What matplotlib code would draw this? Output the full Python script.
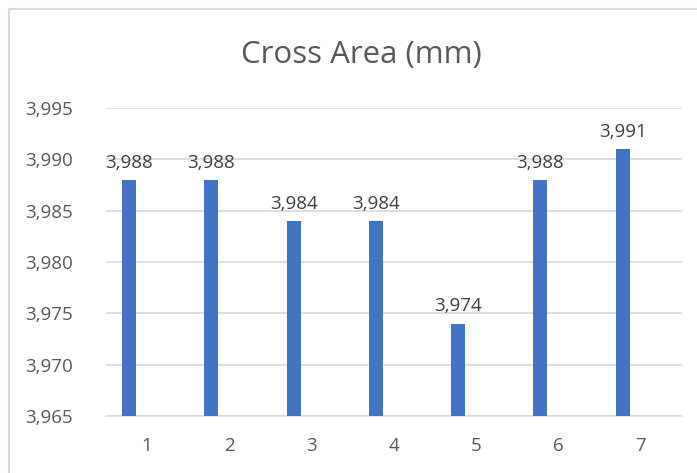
import matplotlib
matplotlib.use("Agg")
import matplotlib.pyplot as plt
from matplotlib.patches import Rectangle

# data
categories = ["1", "2", "3", "4", "5", "6", "7"]
values = [3.988, 3.988, 3.984, 3.984, 3.974, 3.988, 3.991]
yticks = [3.965, 3.970, 3.975, 3.980, 3.985, 3.990, 3.995]

plt.rcParams['font.family'] = ['Open Sans', 'DejaVu Sans']
text_color = "#595959"
grid_color = "#D9D9D9"

fig = plt.figure(figsize=(6.97, 4.73), dpi=100)
ax = fig.add_axes([106/697, 1 - 416/473, (682 - 106)/697, (416 - 108)/473])

# chart border (outer frame, partly cut off like the screenshot)
fig.patches.append(Rectangle((9/697, -0.1), 1.1, 1 - 9/473 + 0.1, transform=fig.transFigure,
                             fill=False, edgecolor=grid_color, linewidth=1.5))

x = range(len(categories))
xpos = [i - 0.22 for i in x]
bars = ax.bar(xpos, values, width=0.17, color="#4472C4", zorder=3)

for xp, v in zip(xpos, values):
    ax.text(xp, v + 0.0008, f"{v:.3f}".replace(".", ","), ha="center", va="bottom",
            fontsize=13.5, color="#404040")

ax.set_ylim(3.965, 3.995)
ax.set_xlim(-0.5, len(categories) - 0.5)
ax.set_yticks(yticks)
ax.set_yticklabels([f"{t:.3f}".replace(".", ",") for t in yticks])
ax.set_xticks(list(x))
ax.set_xticklabels(categories)
ax.tick_params(axis="both", length=0, labelsize=13.5, colors=text_color)
ax.tick_params(axis="y", pad=24)
ax.tick_params(axis="x", pad=15)
ax.grid(axis="y", color=grid_color, linewidth=1.2, zorder=0)
for s in ["top", "right", "left"]:
    ax.spines[s].set_visible(False)
ax.spines["bottom"].set_color(grid_color)
ax.spines["bottom"].set_linewidth(1.2)

fig.text(361/697, 1 - 55/473, "Cross Area (mm)", ha="center", va="center",
         fontsize=22.5, color=text_color)

fig.savefig("out.png", dpi=100)
